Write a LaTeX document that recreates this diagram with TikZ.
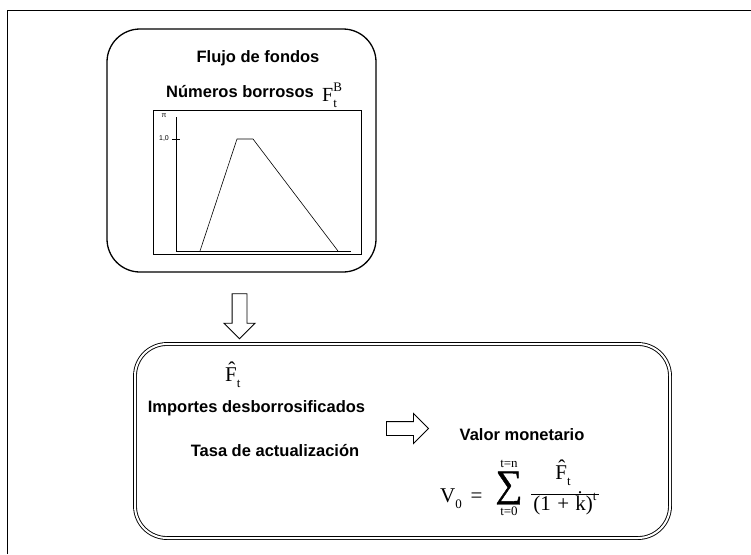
\documentclass[tikz,border=0pt]{standalone}
\usepackage{fontspec}
\setmainfont{Liberation Serif}
\newfontfamily\arialb{Liberation Sans}
\newfontfamily\sumfont[FakeBold=1.2]{Liberation Serif}
\usetikzlibrary{shapes.arrows,positioning}

\newcommand{\supsub}[2]{\rlap{\raisebox{0.5em}{\fontsize{13}{13}\selectfont #1}}\raisebox{-0.3em}{\fontsize{13}{13}\selectfont #2}}
\newcommand{\subonly}[1]{\raisebox{-0.3em}{\fontsize{13}{13}\selectfont #1}}
\newcommand{\suponly}[1]{\raisebox{0.45em}{\fontsize{13}{13}\selectfont #1}}

\begin{document}
\begin{tikzpicture}[x=1pt,y=-1pt,
  lbl/.style={font=\arialb\bfseries\fontsize{16.5}{19}\selectfont, inner sep=0pt},
  frm/.style={font=\fontsize{21}{24}\selectfont, inner sep=0pt},
  sml/.style={font=\fontsize{13}{14}\selectfont, inner sep=0pt},
  tiny/.style={font=\arialb\fontsize{7}{8}\selectfont, inner sep=0pt},
  blockarrow/.style={draw, single arrow, line width=0.9pt, inner xsep=0pt,
    single arrow head extend=8pt, single arrow tip angle=90}]
\useasboundingbox (0,0) rectangle (751,554);
% marco
\draw[line width=1.3pt] (7.5,554) -- (7.5,10.5) -- (751,10.5);

% flujo de fondos
\node[draw, line width=1.3pt, rounded corners=33pt, minimum width=269pt, minimum height=243pt] (flujo) at (241.5,150.5) {};
\node[lbl, anchor=base] (titulo) at (258,62) {Flujo de fondos};
\node[lbl, anchor=base east] (borrosos) at (314,97) {Números borrosos};
\node[frm, font=\fontsize{20}{22}\selectfont, anchor=base west] (fb) at (322,101) {F\supsub{B}{t}};

% grafico
\node[draw, line width=1pt, minimum width=208pt, minimum height=144pt] (chart) at (257,182) {};
\coordinate (origen) at (176,251);
\draw[line width=0.8pt] (176,117) -- (origen) -- (351,251);
\draw[line width=0.8pt] (172,139) -- (180,139);
\node[tiny] (pi) at (164,116) {π};
\node[tiny] (uno) at (164,139) {1,0};
\draw[line width=0.6pt] (200,251) -- (237,139) -- (253,139) -- (338,251);

% flecha abajo
\node[blockarrow, rotate=-90, inner ysep=7pt, minimum height=45pt, minimum width=30pt] (abajo) at (239.5,312.5) {};

% valor monetario
\node[draw, double, line width=0.9pt, double distance=2pt, rounded corners=32pt, minimum width=535pt, minimum height=194pt] (valor) at (402.5,441) {};
\node[frm, anchor=base west] (fhat) at (225,381) {\^{F}\subonly{t}};
\node[lbl, anchor=base] (importes) at (256.5,412) {Importes desborrosificados};
\node[lbl, anchor=base] (tasa) at (275,456) {Tasa de actualización};
\node[blockarrow, inner ysep=6.5pt, minimum height=42pt, minimum width=29pt] (derecha) at (404,428.5) {};
\node[lbl, anchor=base] (monetario) at (522,440) {Valor monetario};

% formula
\node[frm, anchor=base west] (vcero) at (440,502) {V\subonly{0}\, =};
\node[font=\sumfont\fontsize{38}{40}\selectfont, inner sep=0pt] (suma) at (509,488) {∑};
\node[sml, above=3pt of suma] (tn) {t=n};
\node[sml, below=2pt of suma] (tcero) {t=0};
\node[frm, anchor=base] (num) at (563,479) {\^{F}\subonly{t}};
\node[frm, anchor=base] (den) at (565,510) {(1\hspace{0.3em}+\hspace{0.3em}\.{k})\suponly{t}};
\draw[line width=0.8pt] ([xshift=-2pt,yshift=-3pt]den.north west) -- ([xshift=2pt,yshift=-3pt]den.north east);
\end{tikzpicture}
\end{document}
